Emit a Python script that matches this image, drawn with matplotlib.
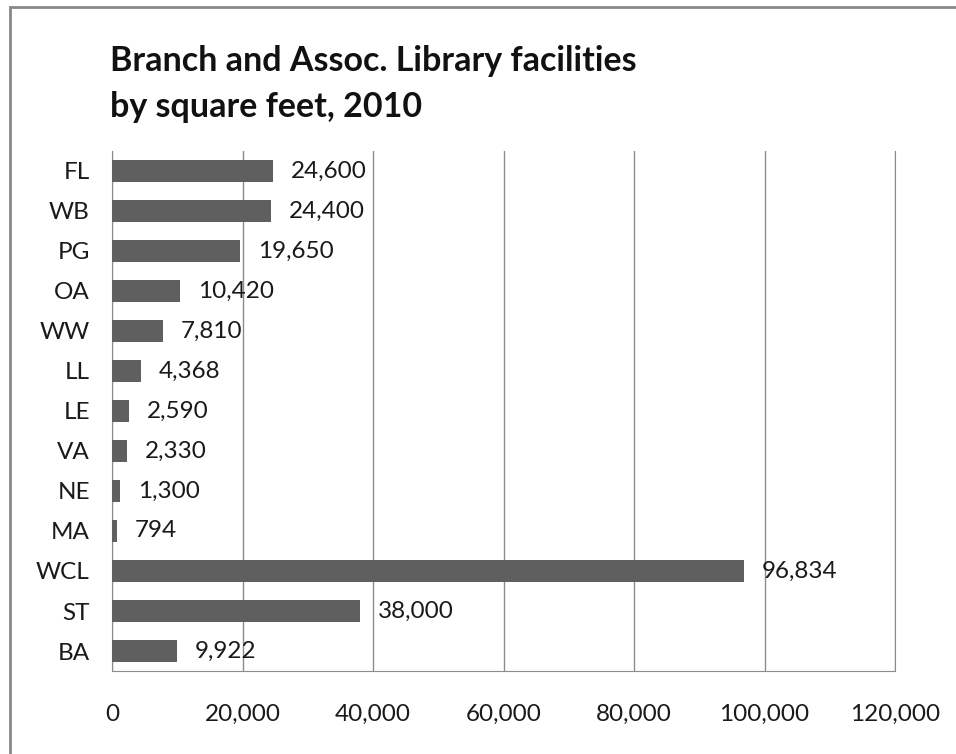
import matplotlib.pyplot as plt
from matplotlib.patches import Rectangle
from matplotlib.ticker import FuncFormatter

# branch and associated library facilities, square feet (2010)
libraries = ['FL', 'WB', 'PG', 'OA', 'WW', 'LL', 'LE', 'VA', 'NE', 'MA', 'WCL', 'ST', 'BA']
sq_feet = [24600, 24400, 19650, 10420, 7810, 4368, 2590, 2330, 1300, 794, 96834, 38000, 9922]

plt.rcParams['font.family'] = ['Lato', 'DejaVu Sans']

fig = plt.figure(figsize=(9.56, 7.54), dpi=100)
ax = fig.add_axes([112 / 956, 1 - 671 / 754, 783 / 956, 520 / 754])

# first item on top
pos = list(range(len(libraries)))[::-1]
bar_color = '#5f5f5f'
ax.barh(pos, sq_feet, height=0.55, color=bar_color, zorder=3)

for y, v in zip(pos, sq_feet):
    ax.annotate(f'{v:,}', (v, y), xytext=(13, 0), textcoords='offset points',
                ha='left', va='center', fontsize=17.5, color='#1a1a1a', zorder=4)

ax.set_xlim(0, 120000)
ax.set_ylim(-0.5, len(libraries) - 0.5)
ax.set_xticks(range(0, 120001, 20000))
ax.xaxis.set_major_formatter(FuncFormatter(lambda x, p: f'{int(x):,}'))
ax.set_yticks(pos)
ax.set_yticklabels(libraries)

grid_c = '#8c8c8c'
ax.grid(axis='x', color=grid_c, linewidth=1, zorder=0)
for s in ['left', 'bottom', 'right']:
    ax.spines[s].set_color(grid_c)
ax.spines['top'].set_visible(False)
ax.tick_params(axis='both', length=0, labelsize=17.5, colors='#1a1a1a')
ax.tick_params(axis='x', pad=24)
ax.tick_params(axis='y', pad=16)

fig.text(110 / 956, 1 - 84 / 754, 'Branch and Assoc. Library facilities\nby square feet, 2010',
         ha='left', va='center', fontsize=24.5, fontweight='bold', linespacing=1.55, color='#111111')

# chart frame
fig.patches.append(Rectangle((10 / 956, -0.05), 1.0, 1 - 7 / 754 + 0.05, transform=fig.transFigure,
                             fill=False, edgecolor='#888888', linewidth=2))

fig.savefig('out.png', dpi=100)
